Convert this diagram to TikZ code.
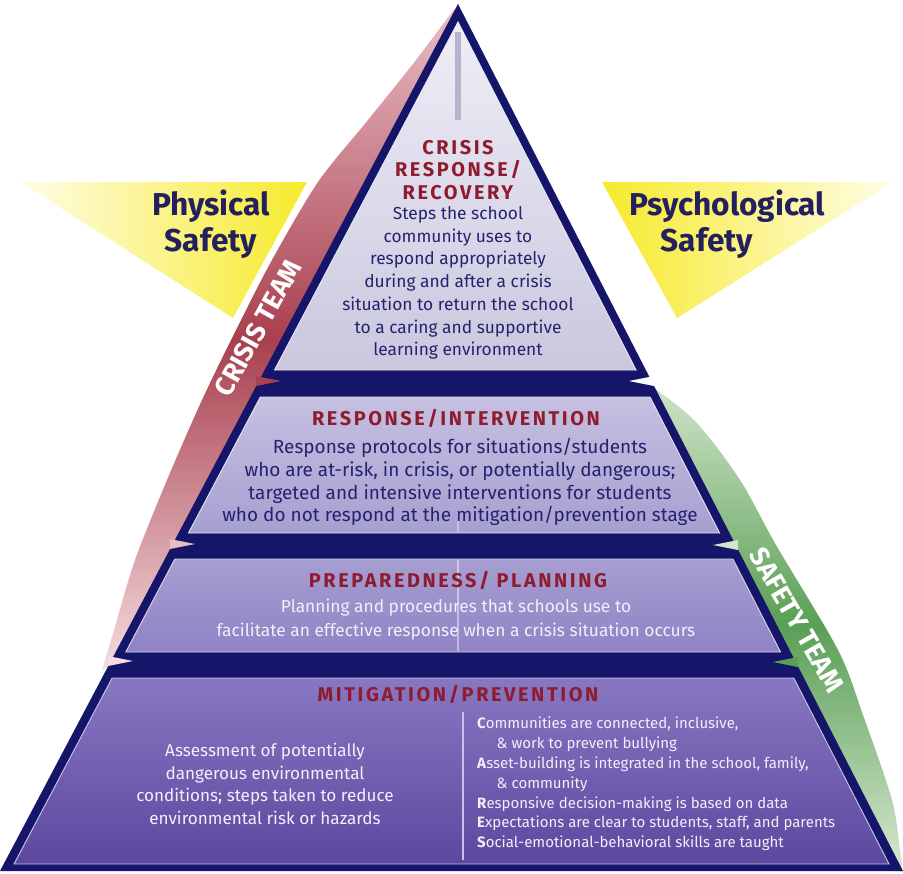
\documentclass[tikz,border=0pt]{standalone}
\usepackage{fontspec}
\setmainfont{Fira Sans}
\newfontfamily\headfont{Fira Sans}[LetterSpace=13]
\usetikzlibrary{calc}

\definecolor{navyband}{HTML}{15156A}
\definecolor{headred}{HTML}{8E1C2E}
\definecolor{textnavy}{HTML}{23236F}
\definecolor{textlight}{HTML}{F1EFF9}
\definecolor{labelnavy}{HTML}{24205E}
\definecolor{yellowbright}{HTML}{F6EA2C}
\definecolor{yellowpale}{HTML}{FFFDE8}
\definecolor{redpale}{HTML}{E9BDC5}
\definecolor{reddark}{HTML}{A9404F}
\definecolor{redlow}{HTML}{F4DCDF}
\definecolor{greenpale}{HTML}{D3E6CC}
\definecolor{greenmid}{HTML}{5A9F56}
\definecolor{greenlow}{HTML}{D8E9D2}
\definecolor{tieratop}{HTML}{EFEEF6}
\definecolor{tierabot}{HTML}{CAC7DF}
\definecolor{tierbtop}{HTML}{C6C0E1}
\definecolor{tierbbot}{HTML}{A79FD0}
\definecolor{tierctop}{HTML}{A79ED1}
\definecolor{tiercbot}{HTML}{8F83C5}
\definecolor{tierdtop}{HTML}{8877C2}
\definecolor{tierdbot}{HTML}{5C489F}
\definecolor{stripegray}{HTML}{B6B3CC}
\definecolor{stripelilac}{HTML}{C9C1EA}

\begin{document}
\begin{tikzpicture}[
    x=0.03cm, y=-0.03cm,   % one unit = one pixel of the 903 x 873 sheet
    heading/.style={inner sep=0pt, align=center, text=headred,
        font=\headfont\bfseries\fontsize{17}{19.2}\selectfont},
    bodydark/.style={inner sep=0pt, align=center, text=textnavy,
        font=\fontsize{14.8}{19.4}\selectfont},
    bodylight/.style={inner sep=0pt, align=center, text=textlight,
        font=\fontsize{14.6}{19.4}\selectfont},
    safetylabel/.style={inner sep=0pt, text=labelnavy,
        font=\bfseries\fontsize{27}{31}\selectfont},
    teamlabel/.style={inner sep=0pt, text=white,
        font=\bfseries\fontsize{23}{23}\selectfont},
    tieredge/.style={line width=0.8pt, draw=white!55!#1},
]

% ── Sheet ─────────────────────────────────────────────────────────────────────
\useasboundingbox (0,0) rectangle (903,873);
\fill[white] (0,0) rectangle (903,873);

% ── Yellow safety wedges ──────────────────────────────────────────────────────
\shade[left color=yellowpale, right color=yellowbright]
    (20,182) -- (307,182) -- (233,318) -- cycle;
\shade[left color=yellowbright, right color=yellowpale]
    (602,182) -- (893,182) -- (677,318) -- cycle;

\node[safetylabel, align=center] (physical) at (211,224) {Physical\\Safety};
\node[safetylabel, align=left, anchor=west] (psych) at (629,224)
    {Psychological\\\hspace*{1em}Safety};

% ── Team ribbons (inner edge hidden under the pyramid) ────────────────────────
\shade[top color=redpale, bottom color=redlow, middle color=reddark]
    plot[smooth] coordinates {
        (455,8) (416,60) (368,120) (318,182) (272,260) (236,330)
        (202,400) (167,480) (135,560) (114,630) (102,670)
    } -- (180,640) -- (440,60) -- cycle;

\shade[top color=greenpale, bottom color=greenlow, middle color=greenmid]
    plot[smooth] coordinates {
        (640,378) (694,420) (740,480) (776,545) (838,650)
        (863,715) (892,800) (900,850) (903,872)
    } -- (800,860) -- (650,420) -- cycle;

% ── Pyramid body ──────────────────────────────────────────────────────────────
\fill[navyband] (458,4) -- (903,871) -- (0,871) -- cycle;

% ribbon tips poking into the bands
\fill[reddark]   (256,376) -- (281,381) -- (256,386) -- cycle;
\fill[redpale]   (170,539) -- (195,544) -- (170,549) -- cycle;
\fill[redlow]    (108,656) -- (133,661) -- (108,666) -- cycle;
\fill[white]     (654,376) -- (629,381) -- (654,386) -- cycle;
\fill[greenpale] (738,540) -- (713,545) -- (738,550) -- cycle;
\fill[greenmid]  (798,657) -- (773,662) -- (798,667) -- cycle;

% tiers
\shadedraw[top color=tieratop, bottom color=tierabot, tieredge=tierabot]
    (458,22) -- (636.1,370) -- (274.5,370) -- cycle;
\shadedraw[top color=tierbtop, bottom color=tierbbot, tieredge=tierbtop]
    (260.3,397) -- (650.0,397) -- (719.6,533) -- (188.5,533) -- cycle;
\shadedraw[top color=tierctop, bottom color=tiercbot, tieredge=tierctop]
    (174.8,559) -- (732.9,559) -- (780.5,652) -- (125.8,652) -- cycle;
\shadedraw[top color=tierdtop, bottom color=tierdbot, tieredge=tierdtop]
    (112.1,678) -- (793.8,678) -- (889,864) -- (14,864) -- cycle;

% centre stripes
\draw[stripegray, line width=4.3pt] (458,32) -- (458,120);
\draw[white, opacity=0.35, line width=1.2pt] (458,512) -- (458,532);
\draw[white, opacity=0.45, line width=1.2pt] (458,560) -- (458,651);
\draw[stripelilac, line width=2.5pt] (463,712) -- (463,860);

% ── Tier texts ────────────────────────────────────────────────────────────────
\node[heading] (crisistitle) at (458,170) {CRISIS\\RESPONSE/\\RECOVERY};
\node[bodydark] (crisisbody) at (458,283)
    {Steps the school\\community uses to\\respond appropriately\\
     during and after a crisis\\situation to return the school\\
     to a caring and supportive\\learning environment};

\node[heading] (resptitle) at (456,418) {RESPONSE/INTERVENTION};
\node[bodydark, font=\fontsize{16.2}{19.4}\selectfont] (respbody) at (460,482)
    {Response protocols for situations/students\\
     who are at-risk, in crisis, or potentially dangerous;\\
     targeted and intensive interventions for students\\
     who do not respond at the mitigation/prevention stage};

\node[heading] (preptitle) at (458,580) {PREPAREDNESS/ PLANNING};
\node[bodylight, font=\fontsize{14.8}{20.4}\selectfont] (prepbody) at (456,620)
    {Planning and procedures that schools use to\\
     facilitate an effective response when a crisis situation occurs};

\node[heading] (mitigtitle) at (458,694) {MITIGATION/PREVENTION};
\node[bodylight] (mitigleft) at (265,784)
    {Assessment of potentially\\dangerous environmental\\
     conditions; steps taken to reduce\\environmental risk or hazards};
\node[bodylight, align=left, anchor=west, font=\fontsize{12.8}{16.9}\selectfont]
    (mitigright) at (477,784)
    {\textbf{C}ommunities are connected, inclusive,\\
     \hspace*{1.3em}\& work to prevent bullying\\
     \textbf{A}sset-building is integrated in the school, family,\\
     \hspace*{1.3em}\& community\\
     \textbf{R}esponsive decision-making is based on data\\
     \textbf{E}xpectations are clear to students, staff, and parents\\
     \textbf{S}ocial-emotional-behavioral skills are taught};

% ── Ribbon labels ─────────────────────────────────────────────────────────────
\node[teamlabel, rotate=61] (crisisteam) at (258,328) {CRISIS TEAM};
\node[teamlabel, rotate=-60] (safetyteam) at (797,620) {SAFETY TEAM};

\end{tikzpicture}
\end{document}
